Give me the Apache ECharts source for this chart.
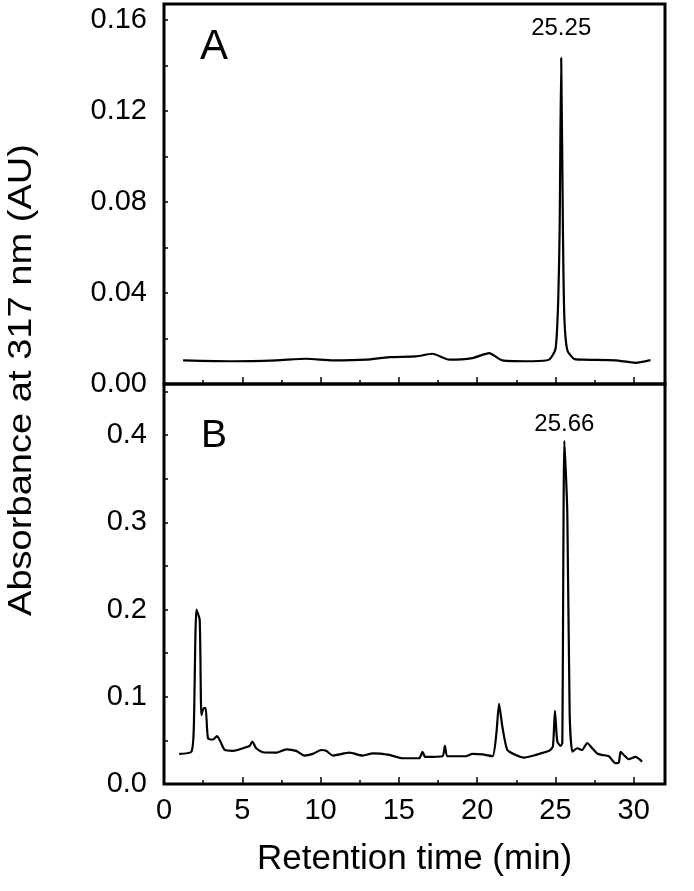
<!DOCTYPE html>
<html><head><meta charset="utf-8">
<script src="https://cdn.jsdelivr.net/npm/echarts@6/dist/echarts.min.js"></script>
<style>html,body{margin:0;padding:0;background:#fff}#c{width:694px;height:891px}</style>
</head><body><div id="c"></div>
<script>
// Panel A: retention time (min) and absorbance (AU)
var timeA = [1.22,4.40,7.17,9.08,10.78,12.91,14.39,16.09,17.15,18.22,19.70,20.77,21.61,23.52,24.59,25.01,25.18,25.27,25.37,25.48,25.57,25.76,26.18,26.71,28.84,30.11,31.07];
var absA  = [0.0104,0.0100,0.0104,0.0111,0.0104,0.0107,0.0118,0.0121,0.0133,0.0107,0.0114,0.0136,0.0104,0.0100,0.0107,0.0155,0.0368,0.0676,0.1433,0.0676,0.0294,0.0148,0.0111,0.0107,0.0104,0.0093,0.0105];
// Panel B
var timeB = [0.97,1.75,1.90,2.07,2.28,2.39,2.54,2.66,2.81,3.13,3.39,3.60,3.88,4.41,5.04,5.47,5.64,5.89,6.32,7.17,7.81,8.44,8.97,9.50,10.04,10.36,10.78,11.84,12.69,13.33,14.39,15.24,16.30,16.51,16.69,17.79,17.94,18.11,19.28,19.70,20.34,20.98,21.23,21.40,21.61,21.93,22.47,23.00,23.74,24.59,24.84,24.97,25.12,25.33,25.44,25.57,25.76,25.91,26.08,26.39,26.71,27.03,27.35,27.67,27.99,28.41,28.84,29.05,29.16,29.37,29.69,30.11,30.54];
var absB  = [0.0345,0.037,0.062,0.200,0.188,0.079,0.087,0.087,0.0525,0.051,0.055,0.0487,0.039,0.038,0.041,0.0437,0.0487,0.041,0.0364,0.036,0.0398,0.038,0.0326,0.0345,0.039,0.038,0.0326,0.036,0.0326,0.035,0.0333,0.0295,0.0295,0.037,0.031,0.0318,0.0437,0.0318,0.0318,0.0345,0.034,0.0318,0.058,0.092,0.066,0.039,0.0333,0.0303,0.0333,0.038,0.043,0.084,0.0487,0.0437,0.047,0.3935,0.311,0.081,0.037,0.041,0.039,0.047,0.041,0.035,0.0333,0.0318,0.0238,0.0245,0.037,0.0333,0.0284,0.031,0.0257];
// Peak annotations
var peakLabels = ['25.25','25.66'];
var peakLabelPos = [[25.37,0.1565],[25.57,0.4125]];
var panelLetters = ['A','B'];
var yTitle = 'Absorbance at 317 nm (AU)';
var xTitle = 'Retention time (min)';

function zip(a,b){return a.map(function(v,i){return [v,b[i]];});}
var FONT = "'Liberation Sans', Arial, Helvetica, sans-serif";
var chart = echarts.init(document.getElementById('c'), null, {renderer:'canvas'});

function xAxisCfg(idx, showLabels){
  return {
    type:'value', gridIndex:idx, min:0, max:32, interval:5,
    axisLine:{show:false},
    axisTick:{show:true, inside:true, length:7, lineStyle:{color:'#000',width:1.5}},
    minorTick:{show:true, splitNumber:2, length:4, lineStyle:{color:'#000',width:1.5}},
    splitLine:{show:false},
    axisLabel:{show:showLabels, showMaxLabel:false, fontSize:29, color:'#000', fontFamily:FONT, margin:12},
    name: showLabels ? xTitle : '', nameLocation:'middle', nameGap:58,
    nameTextStyle:{fontSize:35, color:'#000', fontFamily:FONT}
  };
}
function yAxisCfg(idx, max, interval, dec){
  return {
    type:'value', gridIndex:idx, min:0, max:max, interval:interval,
    axisLine:{show:false},
    axisTick:{show:true, inside:true, length:4, lineStyle:{color:'#000',width:1.5}},
    minorTick:{show:true, splitNumber:2, length:4, lineStyle:{color:'#000',width:1.5}},
    splitLine:{show:false},
    axisLabel:{showMaxLabel:false, fontSize:29, color:'#000', fontFamily:FONT, margin:17,
      formatter:function(v){return v.toFixed(dec);}}
  };
}

var option = {
  animation:false,
  backgroundColor:'#fff',
  title:[
    {text:panelLetters[0], left:200, top:26, padding:0, textStyle:{fontSize:42, fontWeight:'normal', color:'#000', fontFamily:FONT}},
    {text:panelLetters[1], left:201, top:417, padding:0, textStyle:{fontSize:39, fontWeight:'normal', color:'#000', fontFamily:FONT}}
  ],
  grid:[
    {left:164, top:4, width:501, height:380, show:true, borderColor:'#000', borderWidth:3, backgroundColor:'transparent'},
    {left:164, top:384, width:501, height:400, show:true, borderColor:'#000', borderWidth:3, backgroundColor:'transparent'}
  ],
  xAxis:[xAxisCfg(0,false), xAxisCfg(1,true)],
  yAxis:[yAxisCfg(0,0.167,0.04,2), yAxisCfg(1,0.4586,0.1,1)],
  graphic:[{
    type:'text', x:22, y:380, rotation:Math.PI/2, scaleX:1.12,
    style:{text:yTitle, fontSize:34, fontFamily:FONT, fill:'#000', align:'center', verticalAlign:'middle'}
  }],
  series:[
    {type:'line', xAxisIndex:0, yAxisIndex:0, data:zip(timeA,absA), showSymbol:false, smooth:0.2,
     lineStyle:{color:'#000', width:2.2}, silent:true,
     markPoint:{symbol:'circle', symbolSize:0, data:[{coord:peakLabelPos[0], value:peakLabels[0]}],
       label:{show:true, position:'inside', formatter:peakLabels[0], fontSize:24, color:'#000', fontFamily:FONT}}},
    {type:'line', xAxisIndex:1, yAxisIndex:1, data:zip(timeB,absB), showSymbol:false, smooth:0.2,
     lineStyle:{color:'#000', width:2.2}, silent:true,
     markPoint:{symbol:'circle', symbolSize:0, data:[{coord:peakLabelPos[1], value:peakLabels[1]}],
       label:{show:true, position:'inside', formatter:peakLabels[1], fontSize:24, color:'#000', fontFamily:FONT}}}
  ]
};
chart.setOption(option);
</script></body></html>
